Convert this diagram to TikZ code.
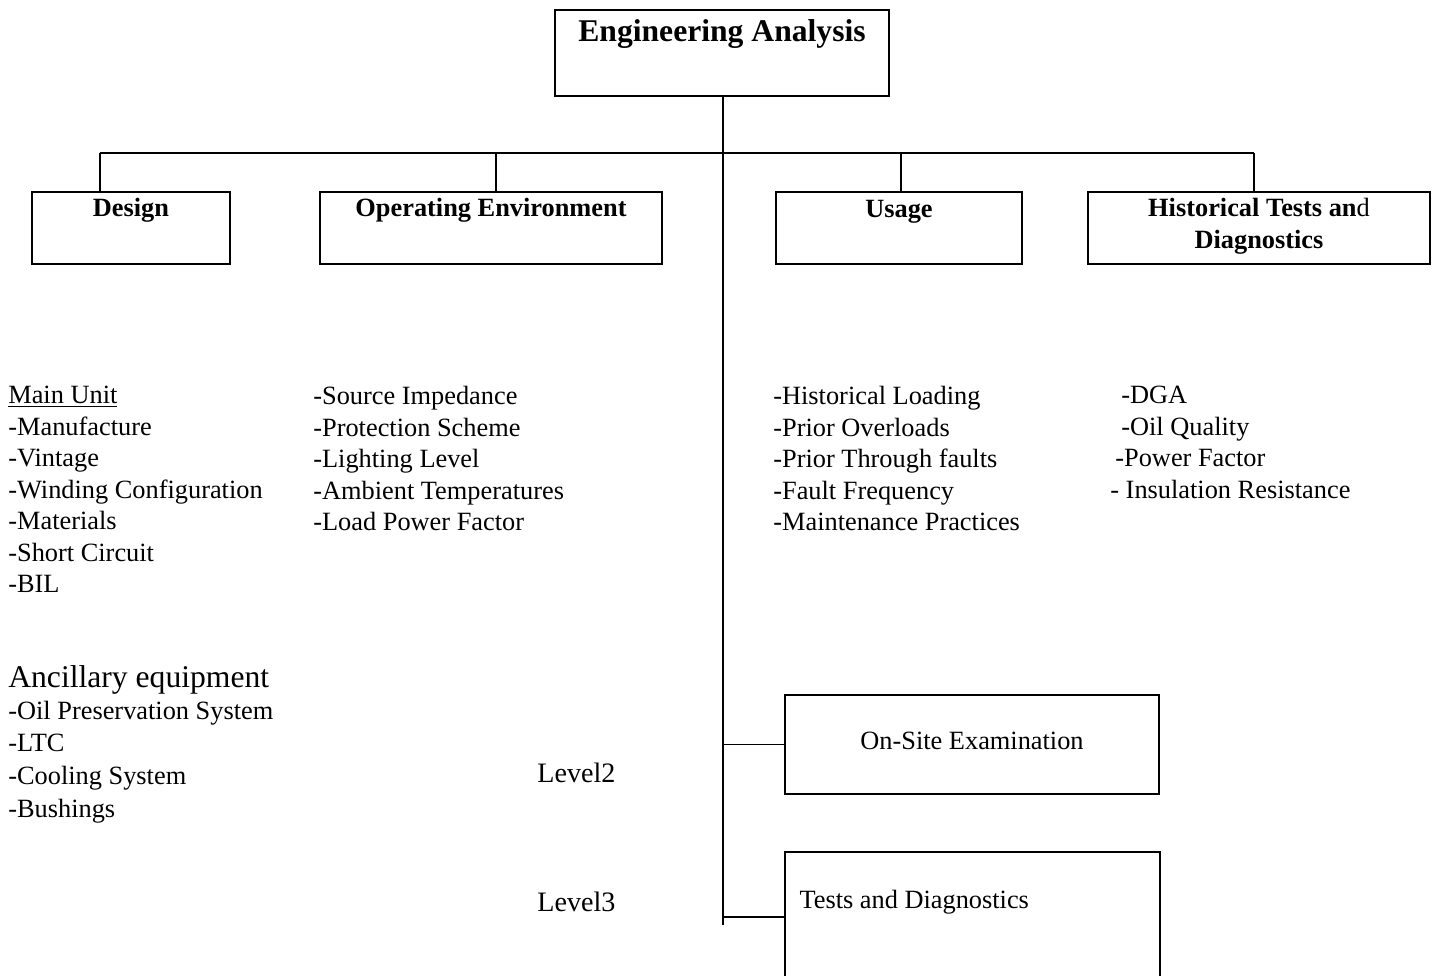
\documentclass[tikz,border=0pt]{standalone}
\usepackage{fontspec}
\setmainfont{Liberation Serif}
\usetikzlibrary{positioning}

\begin{document}
\begin{tikzpicture}[
    x=0.02cm, y=-0.02cm,
    box/.style={draw, line width=1pt, inner sep=0pt},
    title/.style={inner sep=0pt, font=\fontsize{18}{22}\selectfont\bfseries},
    head/.style={inner sep=0pt, align=center, font=\fontsize{15}{18.2}\selectfont\bfseries},
    list/.style={inner sep=0pt, align=left, anchor=north west, font=\fontsize{15}{17.9}\selectfont},
    lvl/.style={inner sep=0pt, anchor=west, font=\fontsize{16}{19}\selectfont},
    line/.style={line width=1pt}
]
\clip (0,0) rectangle (1436,975);

% top box
\node[box, minimum width=6.68cm, minimum height=1.72cm] (ea) at (722,53) {};
\node[title, below=0.2cm of ea.north] (eatxt) {Engineering Analysis};

% second row
\node[box, minimum width=3.96cm, minimum height=1.44cm] (design) at (131,228) {};
\node[box, minimum width=6.84cm, minimum height=1.44cm] (openv) at (491,228) {};
\node[box, minimum width=4.92cm, minimum height=1.44cm] (usage) at (899,228) {};
\node[box, minimum width=6.84cm, minimum height=1.44cm] (hist) at (1259,228) {};
\node[head, below=0.14cm of design.north] (designtxt) {Design};
\node[head, below=0.14cm of openv.north] (openvtxt) {Operating Environment};
\node[head, below=0.17cm of usage.north] (usagetxt) {Usage};
\node[head, below=0.14cm of hist.north] (histtxt) {Historical Tests an{\mdseries d}\\Diagnostics};

% bus and drops
\coordinate (busL) at (100,153);
\coordinate (busR) at (1254,153);
\coordinate (trunkend) at (723,925);
\draw[line] (busL) -- (busR);
\foreach \x/\n in {100/design, 496/openv, 901/usage, 1254/hist}
    \draw[line] (\x,153) -- (\n.north -| \x,153);
\draw[line] (ea.south -| trunkend) -- (trunkend);

% factor lists
\node[list] (mainunit) at (8,386) {\underline{Main Unit}\\-Manufacture\\-Vintage\\-Winding Configuration\\-Materials\\-Short Circuit\\-BIL};
\node[list] (envlist) at (313,386) {-Source Impedance\\-Protection Scheme\\-Lighting Level\\-Ambient Temperatures\\-Load Power Factor};
\node[list] (usagelist) at (773,386) {-Historical Loading\\-Prior Overloads\\-Prior Through faults\\-Fault Frequency\\-Maintenance Practices};
\node[list] (histlist) at (1110,386) {\hspace*{0.22cm}-DGA\\\hspace*{0.22cm}-Oil Quality\\\hspace*{0.1cm}-Power Factor\\- Insulation Resistance};

\node[list, font=\fontsize{18}{22}\selectfont] (anc) at (8,665) {Ancillary equipment};
\node[list, font=\fontsize{15}{18.6}\selectfont, below=0.12cm of anc.south west, anchor=north west] (anclist) {-Oil Preservation System\\-LTC\\-Cooling System\\-Bushings};

% lower levels
\node[lvl] (lvl2) at (537,773) {Level2};
\node[lvl] (lvl3) at (537,902) {Level3};
\node[box, minimum width=7.48cm, minimum height=1.98cm] (onsite) at (972,744.5) {};
\node[lvl, font=\fontsize{15}{18}\selectfont, anchor=center] (onsitetxt) at ([yshift=0.08cm]onsite.center) {On-Site Examination};
\node[box, minimum width=7.5cm, minimum height=2.6cm] (tests) at (972.5,917) {};
\node[lvl, font=\fontsize{15}{18}\selectfont] (teststxt) at ([xshift=0.3cm, yshift=-1.02cm]tests.north west) {Tests and Diagnostics};
\draw[line] (onsite.west) -- (onsite.west -| trunkend);
\draw[line] (tests.west) -- (tests.west -| trunkend);
\end{tikzpicture}
\end{document}
